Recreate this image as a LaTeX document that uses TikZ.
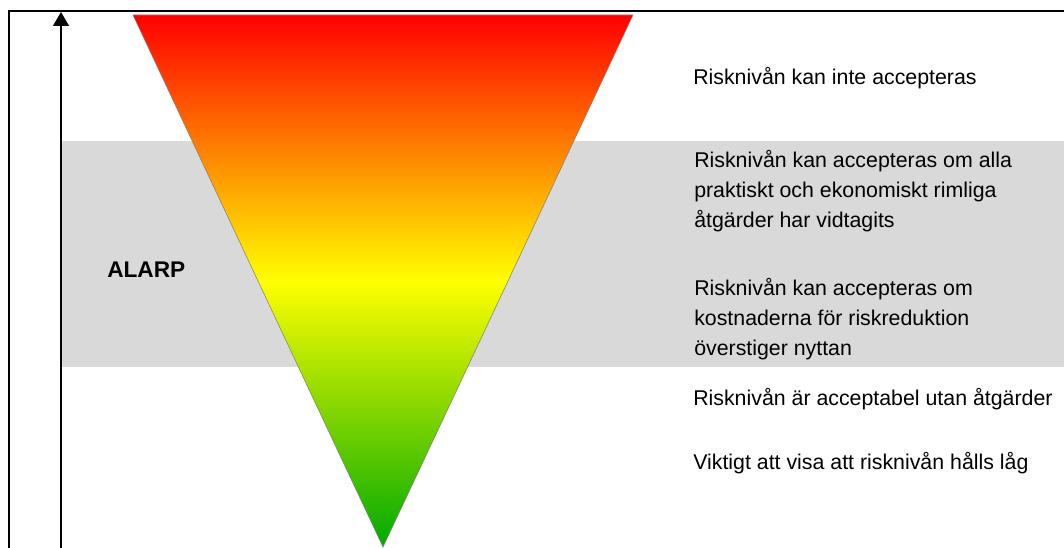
\documentclass[tikz,border=0pt]{standalone}
\usepackage{fontspec}
\setmainfont{Liberation Sans}
\usetikzlibrary{arrows.meta}
\definecolor{band}{RGB}{217,217,217}
\definecolor{riskred}{RGB}{255,0,0}
\definecolor{riskyellow}{RGB}{255,255,0}
\definecolor{riskgreen}{RGB}{0,170,0}
\begin{document}
\begin{tikzpicture}[x=0.75pt, y=-0.75pt,
  remark/.style={anchor=base west, inner sep=0pt, align=left,
    font=\fontsize{16}{22.7}\selectfont}]
\useasboundingbox (0,0) rectangle (1064,548);
% grey ALARP band
\fill[band] (62,141) rectangle (1064,367);
% frame
\draw[line width=1.1pt] (9,548) -- (9,11) -- (1064,11);
% risk triangle, red on top to green at the tip (middle color must come last)
\shadedraw[draw=gray, top color=riskred, bottom color=riskgreen, middle color=riskyellow]
  (133,15) -- (633,15) -- (383,547) -- cycle;
% risk axis
\coordinate (low) at (61,548);
\coordinate (high) at (61,12);
\draw[-{Triangle[width=12pt,length=10.5pt]}, line width=0.9pt] (low) -- (high);

% base anchor of a multi-line node sits on its last line
\node[remark, font=\bfseries\fontsize{17}{20}\selectfont] (alarp) at (107,278) {ALARP};
\node[remark] (notok) at (693,85) {Risknivån kan inte accepteras};
\node[remark] (alarp1) at (694,228) {Risknivån kan accepteras om alla\\praktiskt och ekonomiskt rimliga\\åtgärder har vidtagits};
\node[remark] (alarp2) at (694,356) {Risknivån kan accepteras om\\kostnaderna för riskreduktion\\överstiger nyttan};
\node[remark] (ok) at (693,406) {Risknivån är acceptabel utan åtgärder};
\node[remark] (keeplow) at (693,470) {Viktigt att visa att risknivån hålls låg};
\end{tikzpicture}
\end{document}
